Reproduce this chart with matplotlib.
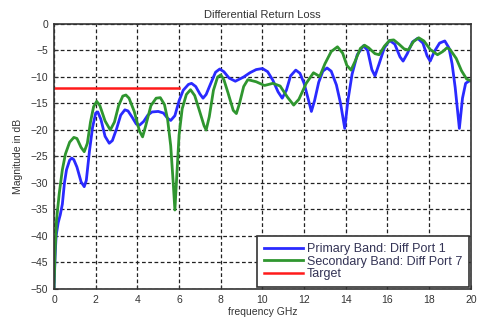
import matplotlib
matplotlib.use("Agg")
import matplotlib.pyplot as plt

plt.rcParams['font.family'] = ['Liberation Sans', 'DejaVu Sans']

freq_primary = [0.0, 0.05, 0.1, 0.2, 0.3, 0.4, 0.5, 0.6, 0.75, 0.85, 0.95, 1.1, 1.3, 1.45, 1.55,
                1.7, 1.85, 2.0, 2.1, 2.25, 2.45, 2.65, 2.8, 3.0, 3.2, 3.4, 3.55, 3.75, 3.95, 4.1,
                4.3, 4.5, 4.7, 5.0, 5.25, 5.45, 5.6, 5.8, 6.0, 6.2, 6.45, 6.6, 6.8, 7.0, 7.15,
                7.3, 7.5, 7.75, 7.95, 8.15, 8.4, 8.7, 8.85, 9.1, 9.4, 9.7, 10.0, 10.25, 10.5,
                10.75, 10.95, 11.15, 11.35, 11.6, 11.8, 12.0, 12.2, 12.35, 12.5, 12.7, 12.9,
                13.1, 13.3, 13.55, 13.75, 13.95, 14.1, 14.3, 14.55, 14.85, 15.05, 15.25, 15.4,
                15.6, 15.85, 16.1, 16.35, 16.6, 16.75, 16.95, 17.2, 17.45, 17.7, 17.9, 18.05,
                18.25, 18.5, 18.75, 18.95, 19.1, 19.25, 19.45, 19.6, 19.75, 19.9, 20.0]
mag_primary = [-50, -44, -40, -37.5, -36, -34, -30, -27.5, -25.7, -25.3, -25.6, -27, -29.8, -30.7, -29.5,
               -24, -19.5, -16.8, -16.6, -18, -21.2, -22.5, -22, -19.8, -17.2, -16.2, -16.4, -17.6, -18.9, -19.1,
               -18.4, -17.2, -16.6, -16.5, -16.8, -17.8, -18.2, -17.3, -14.5, -12.5, -11.4, -11.2, -11.8, -13.2, -14.0,
               -13.3, -11.4, -9.1, -8.5, -9.0, -10.2, -10.8, -10.5, -10.0, -9.2, -8.6, -8.4, -9.0, -10.6,
               -12.8, -14.0, -12.5, -9.8, -8.7, -9.3, -11.2, -14.2, -16.5, -14.5, -11.0, -8.9,
               -8.3, -8.9, -11.5, -15.0, -19.7, -14.5, -9.5, -5.8, -4.1, -5.0, -8.6, -9.8,
               -7.5, -4.5, -3.1, -3.8, -6.2, -7.0, -5.6, -3.4, -2.7, -3.6, -6.0, -7.0,
               -5.2, -3.6, -3.2, -4.5, -7.5, -12, -19.7, -14, -11.2, -10.8, -10.7]

freq_secondary = [0.0, 0.05, 0.12, 0.25, 0.4, 0.55, 0.75, 0.95, 1.1, 1.3, 1.45, 1.6, 1.75, 1.9, 2.05,
                  2.2, 2.45, 2.7, 2.9, 3.1, 3.3, 3.45, 3.6, 3.85, 4.1, 4.25, 4.4, 4.65, 4.9, 5.1,
                  5.3, 5.45, 5.6, 5.72, 5.8, 5.9, 6.0, 6.15, 6.35, 6.55, 6.75, 6.95, 7.2, 7.3,
                  7.45, 7.65, 7.85, 8.0, 8.15, 8.35, 8.6, 8.75, 8.9, 9.1, 9.3, 9.7, 10.1, 10.5,
                  10.85, 11.2, 11.5, 11.75, 12.1, 12.45, 12.75, 13.0, 13.3, 13.6, 13.85, 14.05,
                  14.25, 14.45, 14.7, 14.9, 15.1, 15.4, 15.6, 15.85, 16.1, 16.3, 16.55, 16.8,
                  17.0, 17.25, 17.5, 17.75, 18.05, 18.4, 18.65, 18.85, 19.0, 19.3, 19.55, 19.8, 20.0]
mag_secondary = [-50, -43, -37, -32, -27.5, -24.5, -22.3, -21.4, -21.6, -23.3, -24.1, -22.5, -18.5, -15.6, -14.6,
                 -15.4, -18.3, -20, -18.5, -15.4, -13.6, -13.4, -14.0, -16.5, -20.2, -21.3, -19.2, -15.4, -14.0, -13.9,
                 -15.2, -18, -23, -30, -35.1, -28, -21, -16, -13.3, -12.4, -13.5, -16.0, -19.2, -20,
                 -17.5, -12.5, -10.0, -9.6, -10.5, -13.0, -16.3, -16.9, -15, -11.8, -10.5, -10.9, -11.6, -11.2,
                 -11.7, -13.8, -15.3, -14.2, -11.2, -9.2, -9.9, -7.5, -5.2, -4.3, -5.5, -7.8,
                 -8.7, -7.0, -4.6, -4.0, -4.5, -5.6, -5.8, -4.2, -3.1, -3.0, -3.8, -4.7,
                 -4.9, -3.3, -2.6, -3.2, -4.8, -5.8, -5.2, -4.5, -4.8, -6.5, -8.8, -10.4, -10.7]

target_freq = [0.0, 6.0]
target_mag = [-12.0, -12.0]

labels = ["Primary Band: Diff Port 1", "Secondary Band: Diff Port 7", "Target"]
xticks = list(range(0, 21, 2))
yticks = list(range(-50, 1, 5))

fig = plt.figure(figsize=(4.78, 3.2), dpi=100)
ax = fig.add_axes([0.113, 0.097, 0.872, 0.828])

ax.plot(freq_primary, mag_primary, color="#2a2aff", lw=2.0, label=labels[0])
ax.plot(freq_secondary, mag_secondary, color="#2f962f", lw=2.0, label=labels[1])
ax.plot(target_freq, target_mag, color="#ff1a1a", lw=1.8, label=labels[2])

ax.set_xlim(0, 20)
ax.set_ylim(-50, 0)
ax.set_xticks(xticks)
ax.set_yticks(yticks)
ax.tick_params(direction="in", labelsize=7.5, length=3, colors="#333333", pad=4)
ax.grid(True, color="#222222", linestyle=(0, (3, 2)), linewidth=0.9)
for s in ax.spines.values():
    s.set_linewidth(1.2)
    s.set_color("#333333")

ax.set_title("Differential Return Loss", fontsize=8, pad=4, color="#333333")
ax.set_xlabel("frequency GHz", fontsize=7.5, labelpad=2, color="#333333")
ax.set_ylabel("Magnitude in dB", fontsize=7.5, labelpad=6, color="#333333")

leg = ax.legend(loc="lower right", fontsize=9, fancybox=False, framealpha=1,
                edgecolor="#333333", borderaxespad=0.15, handlelength=3.1,
                handletextpad=0.3, labelspacing=0.05, borderpad=0.55)
leg.get_frame().set_linewidth(1.2)
for t in leg.get_texts():
    t.set_color("#333355")

fig.savefig("out.png", dpi=100)
